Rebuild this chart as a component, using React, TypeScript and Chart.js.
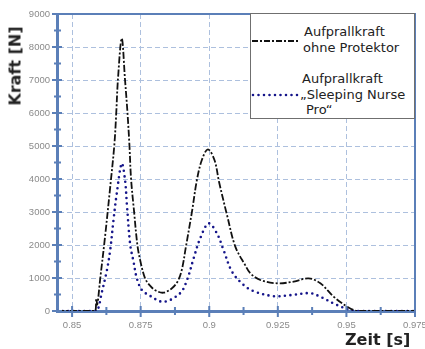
import React, { useEffect, useRef } from "react";
import { Chart, registerables } from "chart.js";

Chart.register(...registerables);

// Aufprallkraft ohne Protektor
const timeOhne = [0.8445, 0.8575, 0.8585, 0.8588, 0.8592, 0.8602, 0.862, 0.8639, 0.8654, 0.8661, 0.8667, 0.8681, 0.8693, 0.8702, 0.8709, 0.8715, 0.8726, 0.8738, 0.8748, 0.8766, 0.8785, 0.8805, 0.8833, 0.8864, 0.8885, 0.89, 0.8915, 0.8937, 0.8955, 0.8973, 0.8995, 0.9019, 0.9036, 0.9065, 0.9095, 0.9131, 0.915, 0.9186, 0.9247, 0.9308, 0.9362, 0.9405, 0.9454, 0.9503, 0.9539, 0.96, 0.975];
const kraftOhne = [0, 0, 0, 380, 200, 940, 2240, 3760, 5030, 6000, 7000, 8260, 7000, 6000, 5030, 4000, 3010, 2000, 1545, 990, 760, 620, 555, 690, 900, 1250, 1950, 3010, 3970, 4575, 4900, 4575, 3900, 2900, 1950, 1390, 1140, 940, 840, 890, 990, 840, 430, 130, 0, 0, 0];

// Aufprallkraft „Sleeping Nurse Pro“
const timeSNP = [0.8445, 0.858, 0.8592, 0.8608, 0.8627, 0.8639, 0.8651, 0.8663, 0.8681, 0.8693, 0.87, 0.8712, 0.8724, 0.8736, 0.8754, 0.8779, 0.8833, 0.8894, 0.8919, 0.8943, 0.8967, 0.8998, 0.9028, 0.9052, 0.9083, 0.9125, 0.9162, 0.9235, 0.9296, 0.9369, 0.9405, 0.9466, 0.9527, 0.96, 0.975];
const kraftSNP = [0, 0, 0, 550, 1240, 1850, 2760, 3570, 4470, 3970, 3200, 2000, 1495, 990, 640, 485, 280, 540, 940, 1595, 2200, 2655, 2350, 1850, 1190, 790, 600, 450, 480, 540, 430, 180, 0, 0, 0];

const xTickValues = [0.85, 0.875, 0.9, 0.925, 0.95, 0.975];
const yTickStep = 1000;
const xMin = 0.8445;
const xMax = 0.975;
const yMin = 0;
const yMax = 9000;

const legendLine1 = ["Aufprallkraft", "ohne Protektor"];
const legendLine2 = ["Aufprallkraft", "„Sleeping Nurse", "Pro“"];

const AXIS_BLUE = "#5b7fb8";
const GRID_BLUE = "#adc0de";

const framePlugin = {
  id: "frame",
  afterDraw(chart: any) {
    const { ctx, chartArea } = chart;
    const xs = chart.scales.x;
    const ys = chart.scales.y;
    ctx.save();
    ctx.strokeStyle = AXIS_BLUE;
    ctx.lineWidth = 2;
    ctx.beginPath();
    ctx.moveTo(chartArea.left, chartArea.top);
    ctx.lineTo(chartArea.right, chartArea.top);
    ctx.lineTo(chartArea.right, chartArea.bottom);
    ctx.stroke();
    const yt = ys.ticks.map((t: any) => t.value);
    ctx.lineWidth = 2;
    ctx.beginPath();
    yt.forEach((v: number, i: number) => {
      const p = ys.getPixelForValue(v);
      ctx.moveTo(chartArea.left - 5, p);
      ctx.lineTo(chartArea.left + 5, p);
      if (i < yt.length - 1) {
        const pm = ys.getPixelForValue((v + yt[i + 1]) / 2);
        ctx.moveTo(chartArea.left - 3, pm);
        ctx.lineTo(chartArea.left + 4, pm);
      }
    });
    const xt = xs.ticks.map((t: any) => t.value);
    xt.forEach((v: number, i: number) => {
      const p = xs.getPixelForValue(v);
      ctx.moveTo(p, chartArea.bottom - 5);
      ctx.lineTo(p, chartArea.bottom + 6);
      if (i < xt.length - 1) {
        const pm = xs.getPixelForValue((v + xt[i + 1]) / 2);
        ctx.moveTo(pm, chartArea.bottom - 4);
        ctx.lineTo(pm, chartArea.bottom + 4);
      }
    });
    ctx.stroke();
    ctx.restore();
  },
};

export default function App() {
  const ref = useRef<HTMLCanvasElement>(null);
  useEffect(() => {
    if (!ref.current) return;
    const chart = new Chart(ref.current, {
      type: "line",
      data: {
        datasets: [
          {
            label: legendLine1.join(" "),
            data: timeOhne.map((t, i) => ({ x: t, y: kraftOhne[i] })),
            borderColor: "#111111",
            borderWidth: 1.8,
            borderDash: [7, 2, 2, 2],
            pointRadius: 0,
            tension: 0.35,
            fill: false,
          },
          {
            label: legendLine2.join(" "),
            data: timeSNP.map((t, i) => ({ x: t, y: kraftSNP[i] })),
            borderColor: "#15158a",
            borderWidth: 2.6,
            borderDash: [0, 5.5],
            borderCapStyle: "round",
            pointRadius: 0,
            tension: 0.35,
            fill: false,
          },
        ],
      },
      options: {
        animation: false,
        responsive: false,
        layout: { padding: { top: 14, right: 25, bottom: 0, left: 0 } },
        plugins: { legend: { display: false }, tooltip: { enabled: false } },
        scales: {
          x: {
            type: "linear",
            min: xMin,
            max: xMax,
            afterBuildTicks: (s: any) => {
              s.ticks = xTickValues.map((v) => ({ value: v }));
            },
            afterFit: (s: any) => {
              s.height = 38;
            },
            ticks: {
              callback: (v: any) => String(v),
              color: "#8a8a8a",
              font: { family: "Liberation Sans", size: 9.5 },
              padding: 9,
              maxRotation: 0,
              autoSkip: false,
            },
            grid: { color: GRID_BLUE, lineWidth: 1, drawTicks: false },
            border: { color: AXIS_BLUE, width: 3, dash: [5, 3] },
          },
          y: {
            min: yMin,
            max: yMax,
            ticks: {
              stepSize: yTickStep,
              callback: (v: any) => String(v),
              color: "#8a8a8a",
              font: { family: "Liberation Sans", size: 9.5 },
              padding: 7,
            },
            afterFit: (s: any) => {
              s.width = 57;
            },
            grid: { color: GRID_BLUE, lineWidth: 1, drawTicks: false },
            border: { color: AXIS_BLUE, width: 3, dash: [5, 3] },
          },
        },
      },
      plugins: [framePlugin],
    } as any);
    return () => chart.destroy();
  }, []);

  const font = "'DejaVu Sans', Verdana, sans-serif";
  const txt = (left: number, top: number, s: string) => (
    <div key={`${left}-${top}`} style={{ position: "absolute", left, top, fontFamily: font, fontSize: 13, lineHeight: "16px", color: "#222", whiteSpace: "pre" }}>{s}</div>
  );

  return (
    <div style={{ position: "fixed", left: 0, top: 0, width: 425, height: 349, overflow: "hidden", background: "#fff" }}>
      <canvas ref={ref} width={440} height={349} style={{ position: "absolute", left: 0, top: 0, width: 440, height: 349 }} />
      <div style={{ position: "absolute", left: 250, top: 13, width: 165, height: 106, border: "1.5px solid #6f6f6f", background: "#fff", boxSizing: "border-box" }} />
      <svg style={{ position: "absolute", left: 0, top: 0 }} width={425} height={349}>
        <line x1={252} y1={41} x2={300} y2={41} stroke="#111" strokeWidth={1.8} strokeDasharray="6 2 2 2" />
        <line x1={253} y1={95} x2={300} y2={95} stroke="#15158a" strokeWidth={2.6} strokeDasharray="0 5.5" strokeLinecap="round" />
      </svg>
      {txt(304, 24, legendLine1[0])}
      {txt(303, 40, legendLine1[1])}
      {txt(302, 71, legendLine2[0])}
      {txt(300, 87, legendLine2[1])}
      {txt(306, 102, legendLine2[2])}
      <div style={{ position: "absolute", left: 15, top: 66, width: 0, height: 0 }}>
        <div style={{ position: "absolute", transform: "translate(-50%, -50%) rotate(-90deg)", fontFamily: font, fontWeight: "bold", fontSize: 16, color: "#222", whiteSpace: "nowrap" }}>Kraft [N]</div>
      </div>
      <div style={{ position: "absolute", left: 345, top: 330, fontFamily: font, fontWeight: "bold", fontSize: 16, color: "#222", whiteSpace: "nowrap" }}>Zeit [s]</div>
    </div>
  );
}
